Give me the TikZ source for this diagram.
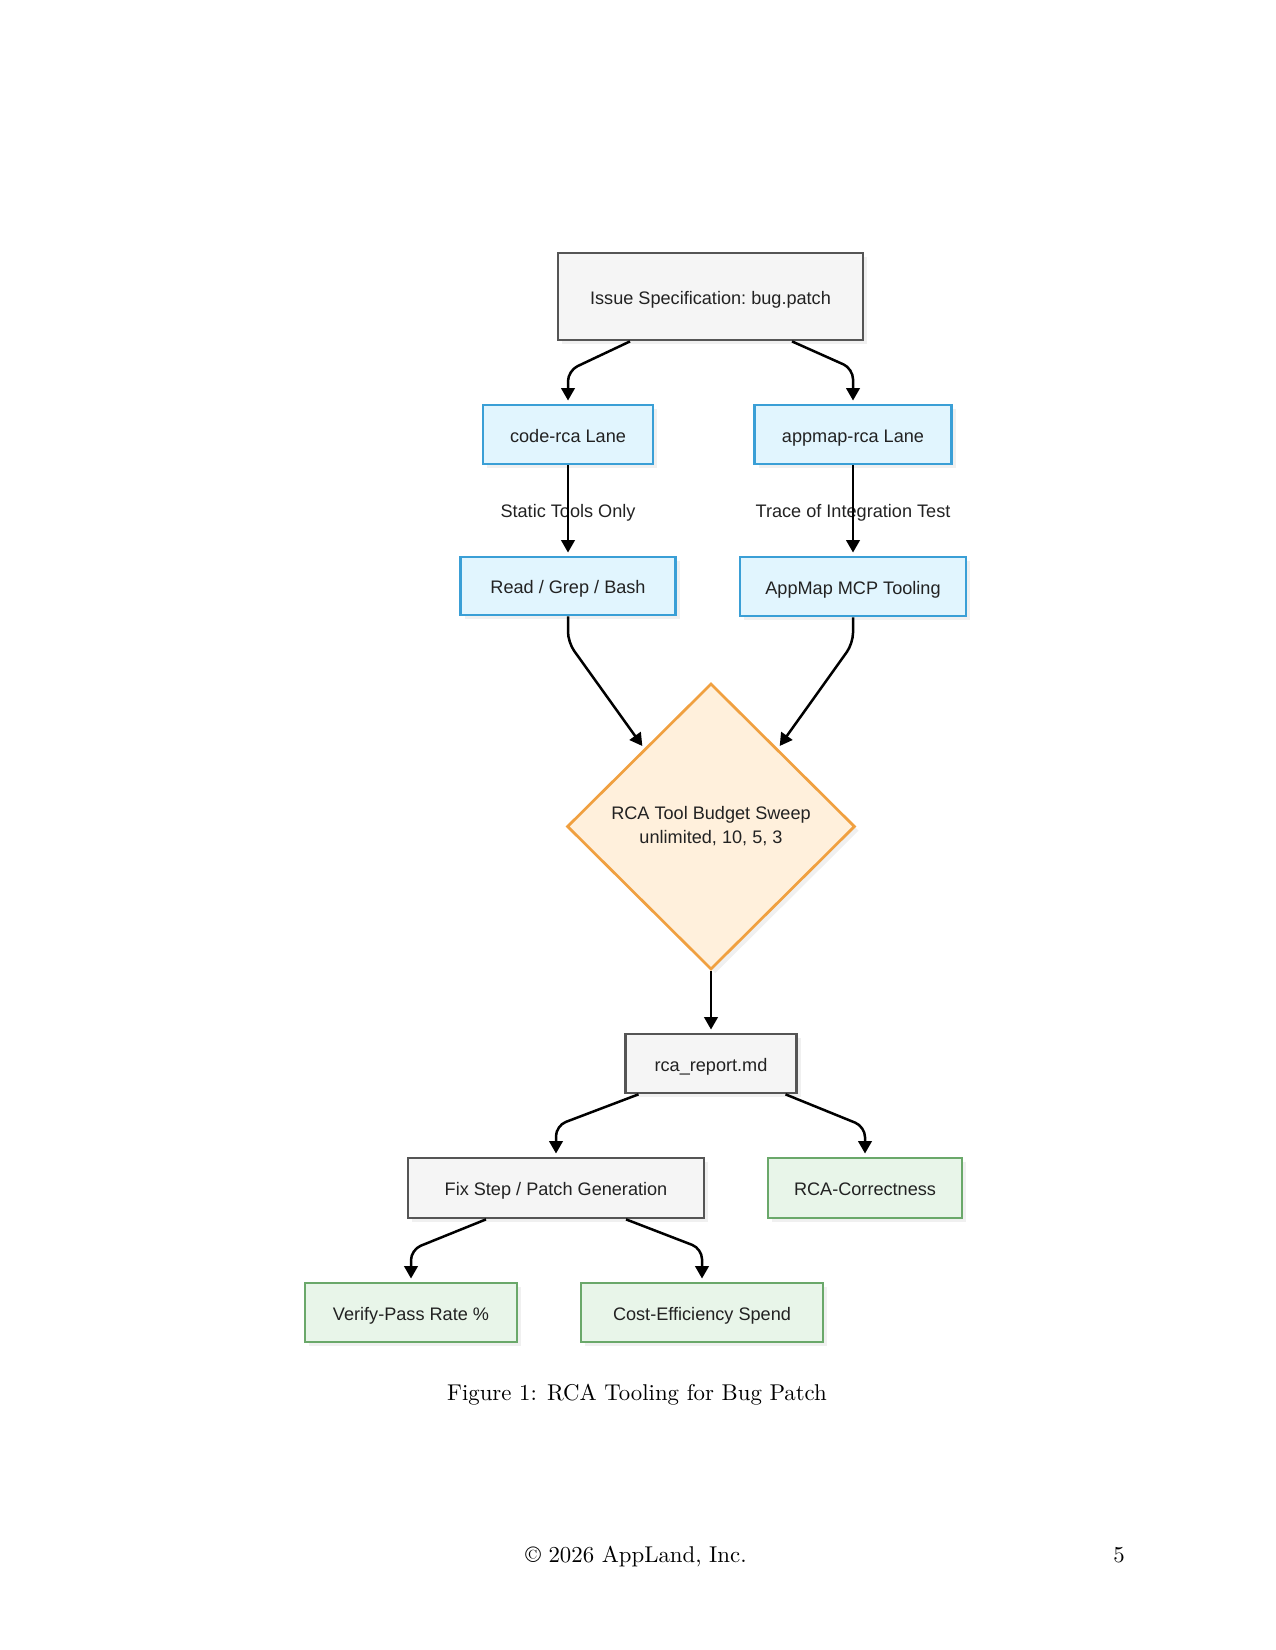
\documentclass[tikz,border=0pt]{standalone}
\usepackage{fontspec}
\newfontfamily\diagfont{Liberation Sans}
\usetikzlibrary{shapes.geometric,arrows.meta,calc,shadows}
\definecolor{grayfill}{HTML}{F5F5F5}
\definecolor{grayline}{HTML}{555555}
\definecolor{bluefill}{HTML}{E1F5FE}
\definecolor{blueline}{HTML}{3A9FD6}
\definecolor{greenfill}{HTML}{E8F5E9}
\definecolor{greenline}{HTML}{6AA86A}
\definecolor{orangefill}{HTML}{FFF0DC}
\definecolor{orangeline}{HTML}{F0A040}
\definecolor{txt}{HTML}{222222}
\begin{document}
\begin{tikzpicture}[x=0.48pt,y=-0.48pt,
  dfont/.style={font=\diagfont\frenchspacing\fontsize{8.7}{11.5}\selectfont, text=txt},
  base/.style={dfont, line width=1.3pt, inner sep=0pt, align=center,
    drop shadow={shadow xshift=2pt, shadow yshift=-2pt, opacity=0.12}},
  rectbox/.style={base, text height=7.3pt, text depth=0pt},
  graybox/.style={rectbox, fill=grayfill, draw=grayline},
  bluebox/.style={rectbox, fill=bluefill, draw=blueline},
  greenbox/.style={rectbox, fill=greenfill, draw=greenline},
  decision/.style={base, shape=diamond, fill=orangefill, draw=orangeline},
  arr/.style={line width=1.2pt, rounded corners=5pt, shorten >=1.5pt,
    -{Triangle[length=6pt,width=6.5pt]}},
  elabel/.style={dfont},
  pagetext/.style={font=\rmfamily\nonfrenchspacing\fontsize{10.95}{13.6}\selectfont, anchor=base}
]
\useasboundingbox (0,0) rectangle (1275,1650);

% nodes
\node[graybox, minimum width=146.4pt, minimum height=41.8pt] (issue) at (710.5,296.5) {Issue Specification: bug.patch};
\node[bluebox, minimum width=81.6pt, minimum height=28.3pt] (code) at (568,434.5) {code-rca Lane};
\node[bluebox, minimum width=94.6pt, minimum height=28.3pt] (appmap) at (853,434.5) {appmap-rca Lane};
\node[bluebox, minimum width=103.2pt, minimum height=27.8pt] (read) at (568,586) {Read / Grep / Bash};
\node[bluebox, minimum width=108.5pt, minimum height=28.3pt] (mcp) at (853,586.5) {AppMap MCP Tooling};
\node[decision, minimum width=138.2pt, minimum height=137.3pt] (sweep) at (711,826.5) {RCA Tool Budget Sweep\\unlimited, 10, 5, 3};
\node[graybox, minimum width=82pt, minimum height=28.3pt] (rca) at (711,1063.5) {rca\_report.md};
\node[graybox, minimum width=142pt, minimum height=28.8pt] (fix) at (556,1188) {Fix Step / Patch Generation};
\node[greenbox, minimum width=93pt, minimum height=28.8pt] (corr) at (865,1188) {RCA-Correctness};
\node[greenbox, minimum width=101.8pt, minimum height=28.3pt] (verify) at (411,1312.5) {Verify-Pass Rate \%};
\node[greenbox, minimum width=116.2pt, minimum height=28.3pt] (cost) at (702,1312.5) {Cost-Efficiency Spend};

% connectors
\draw[arr] ($(issue.south)+(-80.5,0)$) -- ($(code.north)+(0,-33)$) -- (code.north);
\draw[arr] ($(issue.south)+(81.5,0)$) -- ($(appmap.north)+(0,-35)$) -- (appmap.north);
\node[elabel] (lblstatic) at (568,513) {Static Tools Only};
\node[elabel] (lbltrace) at (853,513) {Trace of Integration Test};
\draw[arr] (code.south) -- (read.north);
\draw[arr] (appmap.south) -- (mcp.north);
\draw[arr] (read.south) -- ($(read.south)+(0,26)$) -- ($(sweep.north)!0.46!(sweep.west)$);
\draw[arr] (mcp.south) -- ($(mcp.south)+(0,26)$) -- ($(sweep.north)!0.46!(sweep.east)$);
\draw[arr] (sweep.south) -- (rca.north);
\draw[arr] ($(rca.south)+(-72.5,0)$) -- ($(fix.north)+(0,-31)$) -- (fix.north);
\draw[arr] ($(rca.south)+(74.5,0)$) -- ($(corr.north)+(0,-30)$) -- (corr.north);
\draw[arr] ($(fix.south)+(-70,0)$) -- ($(verify.north)+(0,-32)$) -- (verify.north);
\draw[arr] ($(fix.south)+(70,0)$) -- ($(cost.north)+(0,-33)$) -- (cost.north);

% page text
\node[pagetext] (caption) at (637,1400) {Figure 1: RCA Tooling for Bug Patch};
\node[pagetext] (footer) at (636,1562) {\textcopyright{} 2026 AppLand, Inc.};
\node[pagetext] (pagenum) at (1119,1562) {5};
\end{tikzpicture}
\end{document}
